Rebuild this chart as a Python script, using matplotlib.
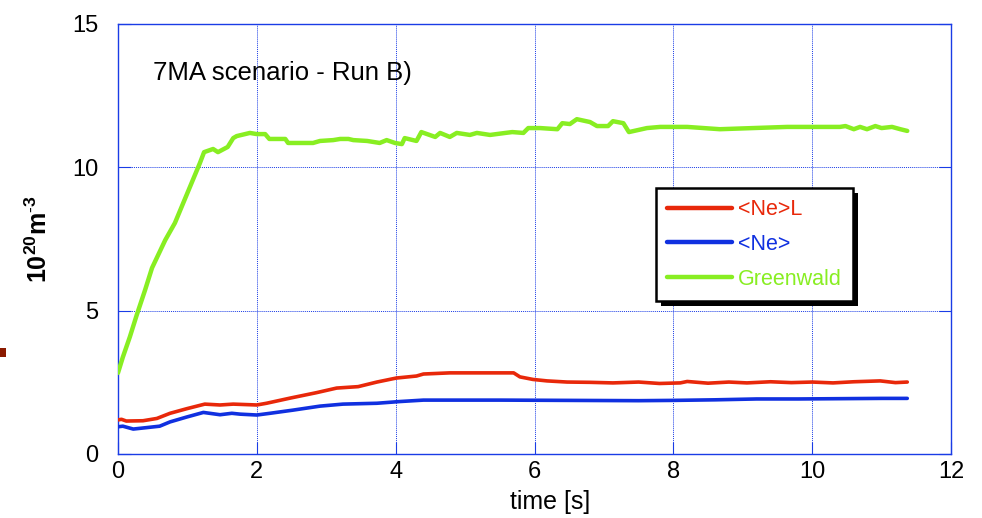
import matplotlib
matplotlib.use("Agg")
import matplotlib.pyplot as plt
from matplotlib.patches import Rectangle

plt.rcParams['font.family'] = ['Liberation Sans', 'DejaVu Sans']
plt.rcParams['mathtext.fontset'] = 'custom'
plt.rcParams['mathtext.rm'] = 'Liberation Sans'
plt.rcParams['mathtext.bf'] = 'Liberation Sans:bold'

# Greenwald density limit
t_gw = [0.0, 0.07, 0.17, 0.27, 0.39, 0.49, 0.68, 0.82, 1.18, 1.24, 1.37, 1.44, 1.58, 1.66,
        1.71, 1.90, 2.0, 2.12, 2.18, 2.41, 2.45, 2.81, 2.91, 3.1, 3.2, 3.32, 3.39, 3.59,
        3.77, 3.87, 3.99, 4.09, 4.13, 4.3, 4.37, 4.57, 4.64, 4.78, 4.88, 5.07, 5.17, 5.36,
        5.58, 5.68, 5.84, 5.91, 6.08, 6.33, 6.40, 6.51, 6.61, 6.80, 6.90, 7.06, 7.13, 7.28,
        7.36, 7.62, 7.81, 8.2, 8.67, 9.15, 9.64, 10.4, 10.48, 10.6, 10.69, 10.79, 10.91,
        11.0, 11.15, 11.27, 11.37]
n_gw = [2.83, 3.38, 4.08, 4.85, 5.72, 6.49, 7.46, 8.06, 10.15, 10.53, 10.64, 10.53, 10.71, 11.02,
        11.09, 11.2, 11.16, 11.16, 10.99, 10.99, 10.85, 10.85, 10.92, 10.95, 10.99, 10.99, 10.95, 10.92,
        10.85, 10.95, 10.85, 10.81, 11.02, 10.92, 11.23, 11.06, 11.2, 11.06, 11.2, 11.13, 11.2, 11.13,
        11.2, 11.23, 11.2, 11.37, 11.37, 11.33, 11.54, 11.51, 11.68, 11.58, 11.44, 11.44, 11.61, 11.54,
        11.23, 11.37, 11.41, 11.41, 11.33, 11.37, 11.41, 11.41, 11.44, 11.33, 11.41, 11.33, 11.44,
        11.37, 11.41, 11.33, 11.27]

# Line-averaged density <Ne>L
t_nel = [0.0, 0.05, 0.12, 0.36, 0.56, 0.75, 0.99, 1.25, 1.47, 1.66, 2.0, 2.14, 2.48, 2.86,
         3.15, 3.46, 3.73, 4.01, 4.3, 4.4, 4.78, 5.5, 5.7, 5.79, 5.98, 6.18, 6.47, 6.8,
         7.13, 7.5, 7.8, 8.1, 8.2, 8.5, 8.8, 9.06, 9.4, 9.7, 10.0, 10.3, 10.6, 10.98, 11.2, 11.37]
n_nel = [1.19, 1.21, 1.15, 1.16, 1.24, 1.42, 1.58, 1.74, 1.71, 1.74, 1.71, 1.77, 1.95, 2.14,
         2.30, 2.35, 2.51, 2.65, 2.72, 2.79, 2.83, 2.83, 2.83, 2.69, 2.60, 2.55, 2.51, 2.50,
         2.48, 2.51, 2.46, 2.48, 2.53, 2.47, 2.51, 2.48, 2.52, 2.49, 2.51, 2.48, 2.52, 2.55, 2.49, 2.51]

# Volume-averaged density <Ne>
t_ne = [0.0, 0.07, 0.22, 0.41, 0.6, 0.75, 0.99, 1.23, 1.47, 1.64, 1.76, 2.0, 2.19, 2.52,
        2.91, 3.24, 3.73, 4.06, 4.4, 5.5, 6.5, 7.5, 8.0, 8.6, 9.2, 9.8, 10.4, 11.0, 11.37]
n_ne = [0.95, 0.97, 0.87, 0.92, 0.97, 1.12, 1.29, 1.45, 1.37, 1.42, 1.39, 1.36, 1.42, 1.53,
        1.67, 1.74, 1.77, 1.83, 1.88, 1.88, 1.87, 1.86, 1.87, 1.89, 1.92, 1.92, 1.93, 1.94, 1.94]

c_gw = '#88ee22'
c_nel = '#e8280a'
c_ne = '#1030e0'
axis_blue = '#1a3ce6'

W, H = 982, 518
fig = plt.figure(figsize=(W / 100, H / 100), dpi=100)
ax = fig.add_axes([118 / W, 64 / H, 833 / W, 430 / H])

ax.plot(t_nel, n_nel, color=c_nel, lw=2.6, solid_capstyle='round', label='<Ne>L', zorder=3)
ax.plot(t_ne, n_ne, color=c_ne, lw=2.6, solid_capstyle='round', label='<Ne>', zorder=3)
ax.plot(t_gw, n_gw, color=c_gw, lw=3.2, solid_capstyle='round', label='Greenwald', zorder=3)

ax.set_xlim(0, 12)
ax.set_ylim(0, 15)
ax.set_xticks([0, 2, 4, 6, 8, 10, 12])
ax.set_yticks([0, 5, 10, 15])
ax.grid(True, color=axis_blue, linestyle=(0, (1, 1)), linewidth=0.7)
for s in ax.spines.values():
    s.set_color(axis_blue)
    s.set_linewidth(1.0)
ax.tick_params(direction='in', length=9, color=axis_blue, labelsize=17,
               right=True, top=False)
ax.tick_params(axis='y', pad=14)
ax.tick_params(axis='x', pad=5)

ax.set_xlabel('time [s]', fontsize=18)
ax.xaxis.set_label_coords((550 - 118) / 833, (454 - 490) / 430)
ax.set_ylabel(r'$\mathbf{10^{20}m^{\text{-}3}}$', fontsize=18)
ax.yaxis.set_label_coords((52 - 118) / 833, 0.5)

ax.text(0.042, 0.885, '7MA scenario - Run B)', transform=ax.transAxes,
        fontsize=18.5, va='center', ha='left')

leg = ax.legend(loc='upper left', bbox_to_anchor=((656 - 118) / 833, (454 - 188) / 430),
                frameon=True, fontsize=15.5, handlelength=3.0, handletextpad=0.3,
                labelspacing=0.64, borderpad=0.52, borderaxespad=0.0,
                fancybox=False, shadow=False, framealpha=1.0, facecolor='white')
leg.get_frame().set_edgecolor('black')
leg.get_frame().set_linewidth(1.8)
leg.set_zorder(5)
for txt, col in zip(leg.get_texts(), [c_nel, c_ne, c_gw]):
    txt.set_color(col)
for h in leg.legend_handles:
    h.set_linewidth(3.2)

# drop shadow under the legend box
fig.canvas.draw()
bb = leg.get_frame().get_window_extent().transformed(ax.transAxes.inverted())
dx, dy = 5 / 833, 5 / 430
ax.add_patch(Rectangle((bb.x0 + dx, bb.y0 - dy), bb.width, bb.height,
                       transform=ax.transAxes, facecolor='black',
                       edgecolor='none', zorder=4, clip_on=False))

# small dark red mark at the left margin
fig.patches.append(Rectangle((0, (H - 357) / H), 6 / W, 9 / H,
                             transform=fig.transFigure, facecolor='#8b1a00',
                             edgecolor='none'))

fig.savefig('out.png', dpi=100)
